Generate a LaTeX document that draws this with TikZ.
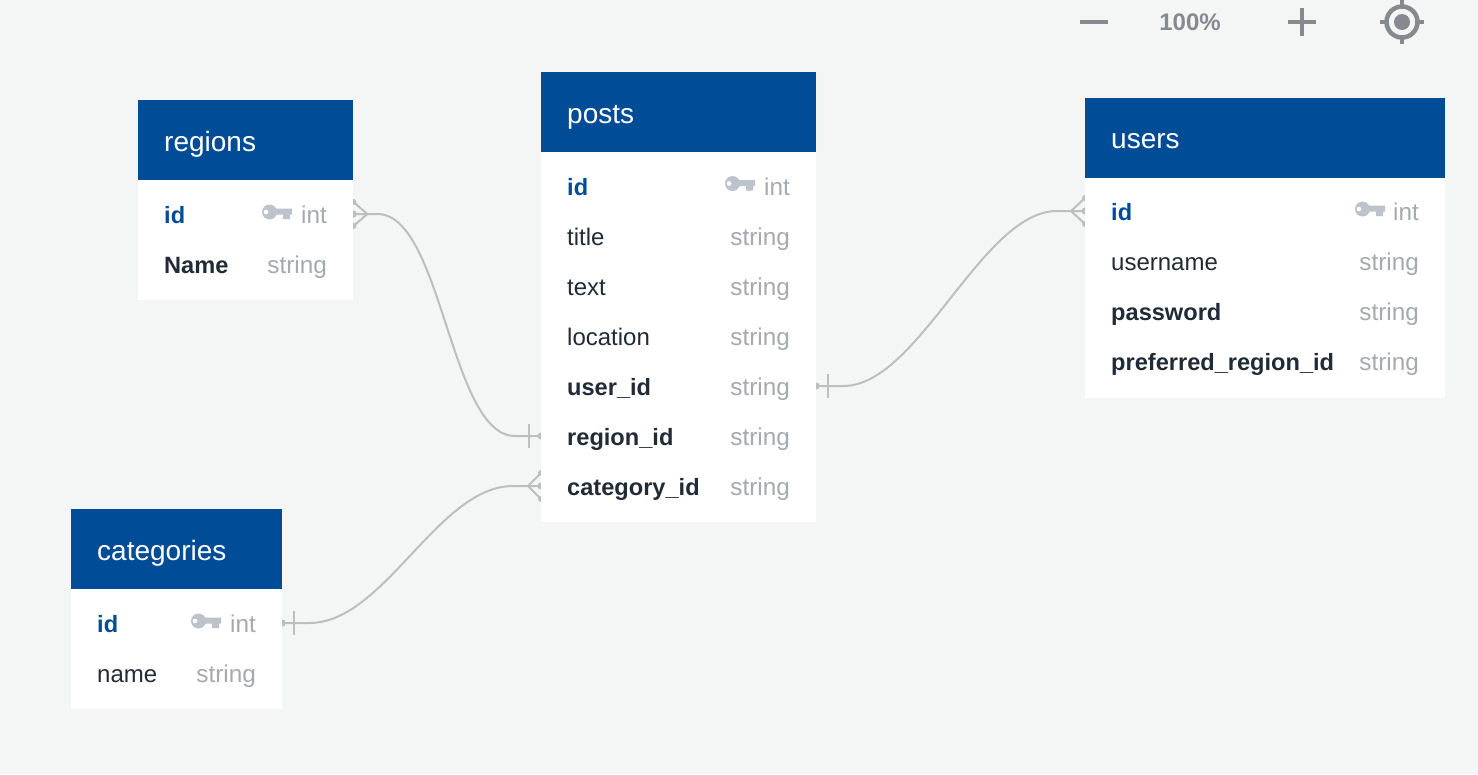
\documentclass[tikz,border=0pt]{standalone}
\usepackage{fontspec}
\setmainfont{Liberation Sans}
\usetikzlibrary{calc,backgrounds}
\definecolor{pagebg}{HTML}{F4F6F5}
\definecolor{headblue}{HTML}{004C97}
\definecolor{darktext}{HTML}{212B36}
\definecolor{typegrey}{HTML}{A6A9AE}
\definecolor{keygrey}{HTML}{BCC3CC}
\definecolor{linegrey}{HTML}{BDBFBE}
\definecolor{ctrlgrey}{HTML}{868A90}
\tikzset{
  x=1pt,y=-1pt,
  headbox/.style={fill=headblue,inner sep=0pt,minimum height=80pt,anchor=north west},
  bodybox/.style={fill=white,inner sep=0pt,anchor=north west},
  rowbox/.style={inner sep=0pt,minimum height=50pt,anchor=west},
  headtext/.style={text=white,inner sep=0pt,anchor=base west,font=\fontsize{28}{30}\selectfont},
  plainname/.style={text=darktext,inner sep=0pt,anchor=base west,font=\fontsize{24}{28}\selectfont},
  boldname/.style={plainname,font=\fontsize{23.6}{28}\selectfont\bfseries},
  pkname/.style={boldname,text=headblue},
  typetext/.style={text=typegrey,inner sep=0pt,anchor=base east,font=\fontsize{24.3}{28}\selectfont},
  conn/.style={draw=linegrey,line width=2pt},
  ctrl/.style={draw=ctrlgrey,line width=4pt},
  keyicon/.pic={
    \fill[keygrey,even odd rule] (-7.5,0) circle[radius=7.5] (-11,0) circle[radius=2.5];
    \fill[keygrey] (-3,-3.5) -- (15,-3.5) -- (15,2.5) -- (13,2.5) -- (13,7) -- (6,7) -- (6,2.5) -- (-3,2.5) -- cycle;
  }
}
% table left, right, top, body bottom, name, title
\newcommand{\tablebox}[6]{%
  \node[bodybox,minimum width={#2-#1},minimum height={#4-#3-80}] (#5-body) at (#1,#3+80) {};
  \node[headbox,minimum width={#2-#1}] (#5-head) at (#1,#3) {};
  \node[headtext] (#5-title) at (#1+26,#3+51) {#6};
}
% node name, left, right, centre y, name style, name, type
\newcommand{\fieldrow}[7]{%
  \node[rowbox,minimum width={#3-#2}] (#1) at (#2,#4) {};
  \node[#5] (#1-name) at (#2+26,#4+9) {#6};
  \node[typetext] (#1-type) at (#3-26,#4+9) {#7};
}
\begin{document}
\begin{tikzpicture}
\useasboundingbox (0,0) rectangle (1478,774);
\begin{scope}[on background layer]
  \fill[pagebg] (0,0) rectangle (1478,774);
\end{scope}

\tablebox{138}{353}{100}{300}{regions}{regions}
\fieldrow{regions-id}{138}{353}{214}{pkname}{id}{int}
\fieldrow{regions-name}{138}{353}{264}{boldname}{Name}{string}
\pic at (277,212) {keyicon};

\tablebox{541}{816}{72}{522}{posts}{posts}
\fieldrow{posts-id}{541}{816}{186}{pkname}{id}{int}
\fieldrow{posts-title}{541}{816}{236}{plainname}{title}{string}
\fieldrow{posts-text}{541}{816}{286}{plainname}{text}{string}
\fieldrow{posts-location}{541}{816}{336}{plainname}{location}{string}
\fieldrow{posts-user}{541}{816}{386}{boldname}{user\_id}{string}
\fieldrow{posts-region}{541}{816}{436}{boldname}{region\_id}{string}
\fieldrow{posts-category}{541}{816}{486}{boldname}{category\_id}{string}
\pic at (740,183.5) {keyicon};

\tablebox{1085}{1445}{97.5}{398}{users}{users}
\fieldrow{users-id}{1085}{1445}{211}{pkname}{id}{int}
\fieldrow{users-username}{1085}{1445}{261}{plainname}{username}{string}
\fieldrow{users-password}{1085}{1445}{311}{boldname}{password}{string}
\fieldrow{users-region}{1085}{1445}{361}{boldname}{preferred\_region\_id}{string}
\pic at (1370,209) {keyicon};

\tablebox{71}{282}{509}{709}{categories}{categories}
\fieldrow{categories-id}{71}{282}{623}{pkname}{id}{int}
\fieldrow{categories-name}{71}{282}{673}{plainname}{name}{string}
\pic at (206,621) {keyicon};

\begin{scope}[on background layer]
  % regions -- posts
  \draw[conn] (regions-id.east) -- ++(24,0) .. controls +(65,0) and +(-65,0) .. ($(posts-region.west)+(-26,0)$) -- (posts-region.west);
  \draw[conn] ($(regions-id.east)+(14,0)$) -- ++(-14,-12) ($(regions-id.east)+(14,0)$) -- ++(-14,12);
  \fill[linegrey] ($(regions-id.east)+(0,-12)$) circle[radius=3] ($(regions-id.east)+(0,12)$) circle[radius=3] (regions-id.east) circle[radius=3.5];
  \draw[conn] ($(posts-region.west)+(-12,-12)$) -- ++(0,24);
  \fill[linegrey] (posts-region.west) circle[radius=3.5];
  % users -- posts
  \draw[conn] (posts-user.east) -- ++(27,0) .. controls +(75,0) and +(-75,0) .. ($(users-id.west)+(-28,0)$) -- (users-id.west);
  \draw[conn] ($(users-id.west)+(-14,0)$) -- ++(14,-13) ($(users-id.west)+(-14,0)$) -- ++(14,13);
  \fill[linegrey] ($(users-id.west)+(0,-13)$) circle[radius=3] ($(users-id.west)+(0,13)$) circle[radius=3] (users-id.west) circle[radius=3.5];
  \draw[conn] ($(posts-user.east)+(12,-12)$) -- ++(0,24);
  \fill[linegrey] (posts-user.east) circle[radius=3.5];
  % categories -- posts
  \draw[conn] (categories-id.east) -- ++(27,0) .. controls +(75,0) and +(-75,0) .. ($(posts-category.west)+(-28,0)$) -- (posts-category.west);
  \draw[conn] ($(posts-category.west)+(-13,0)$) -- ++(13,-13) ($(posts-category.west)+(-13,0)$) -- ++(13,13);
  \fill[linegrey] ($(posts-category.west)+(0,-13)$) circle[radius=3] ($(posts-category.west)+(0,13)$) circle[radius=3] (posts-category.west) circle[radius=3.5];
  \draw[conn] ($(categories-id.east)+(12,-12)$) -- ++(0,24);
  \fill[linegrey] (categories-id.east) circle[radius=3.5];
\end{scope}

% zoom controls
\coordinate (minus) at (1094,22);
\coordinate (plus) at (1302,22);
\coordinate (target) at (1402,22);
\draw[ctrl] ($(minus)+(-14,0)$) -- ++(28,0);
\draw[ctrl] ($(plus)+(-14,0)$) -- ++(28,0) ($(plus)+(0,-14)$) -- ++(0,28);
\node[text=ctrlgrey,inner sep=0pt,font=\fontsize{24}{28}\selectfont\bfseries] (zoomlabel) at (1190,22) {100\%};
\draw[ctrl,line width=4.5pt] (target) circle[radius=15.5];
\fill[ctrlgrey] (target) circle[radius=8];
\draw[ctrl] ($(target)+(-22,0)$) -- ++(6,0) ($(target)+(16,0)$) -- ++(6,0) ($(target)+(0,-22)$) -- ++(0,6) ($(target)+(0,16)$) -- ++(0,6);
\end{tikzpicture}
\end{document}
